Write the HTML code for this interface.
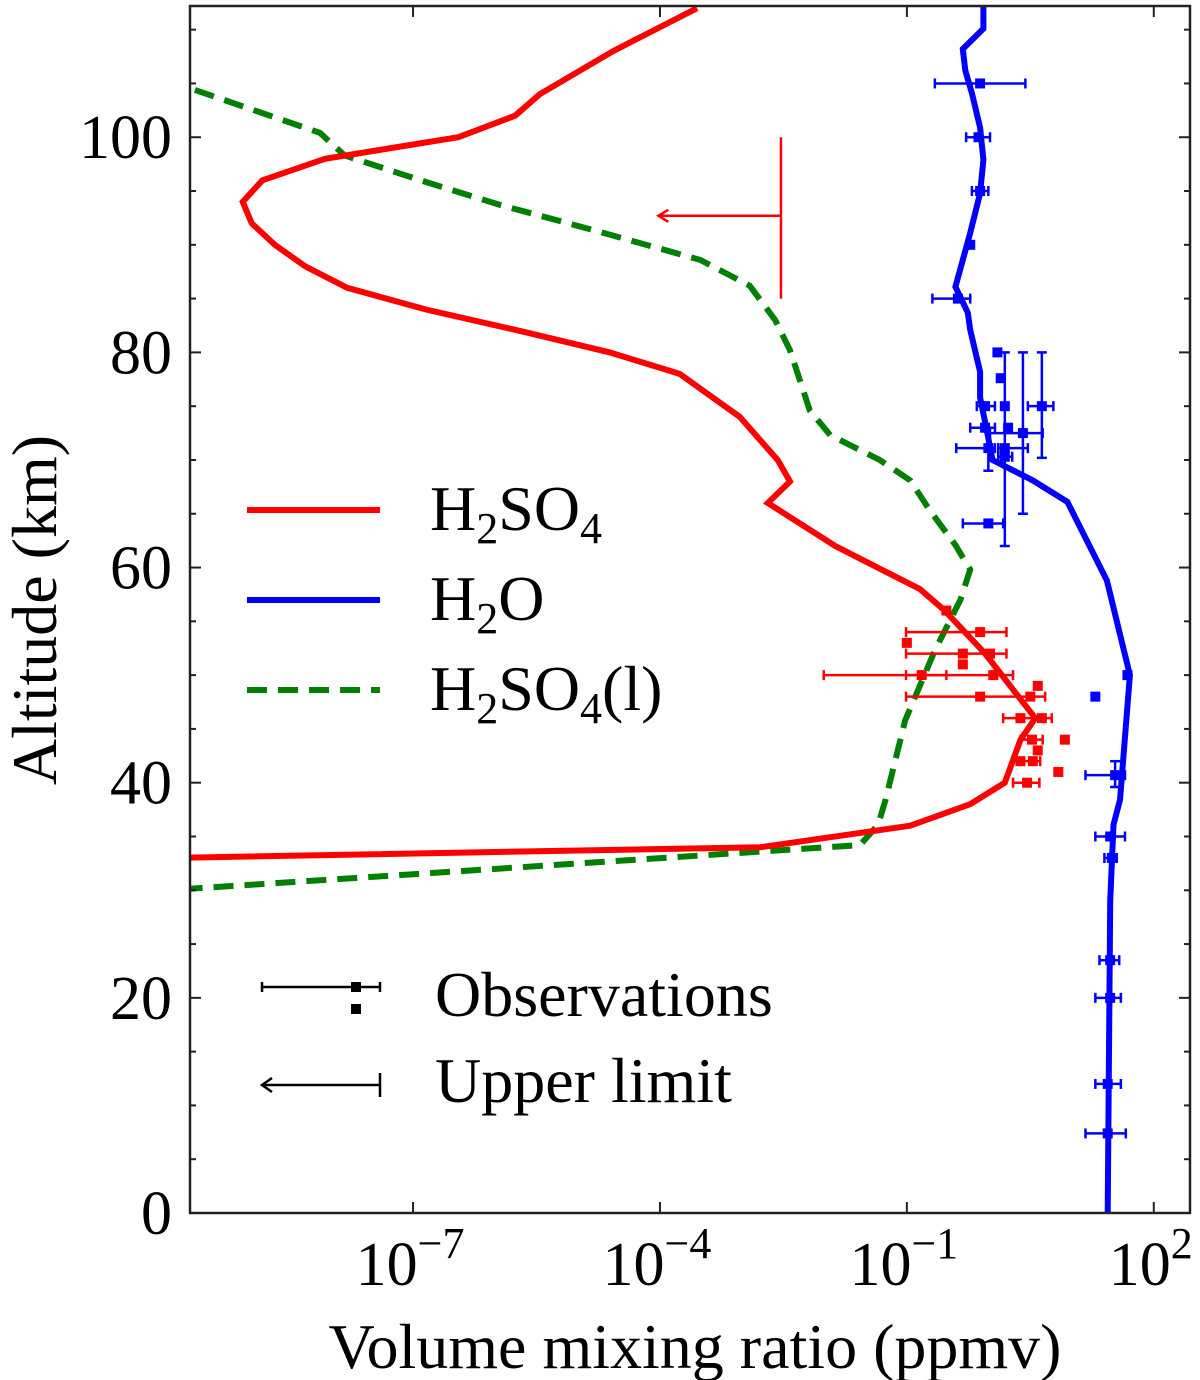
<!DOCTYPE html>
<html><head><meta charset="utf-8"><style>
html,body{margin:0;padding:0;background:#fff;}
svg{display:block;}
text{font-family:"Liberation Serif",serif;fill:#000;}
</style></head><body>
<svg id="chart" width="1200" height="1380" viewBox="0 0 1200 1380" xmlns="http://www.w3.org/2000/svg">
<g id="plot"></g>
</svg>
<script>
// ---- data (values are log10 of VMR in ppmv; altitudes in km) ----
const xTickExps = [-7, -4, -1, 2];
const yTickVals = [0, 20, 40, 60, 80, 100];
const h2so4Alt = [112,108,104,102,100,98,96,94,92,90,88,86,84,82,80,78,74,70,68,66,62,58,56,52,46,44,40,38,36,34,33];
const h2so4Log = [-3.55,-4.57,-5.46,-5.76,-6.45,-8.07,-8.83,-9.07,-8.96,-8.68,-8.31,-7.80,-6.85,-5.70,-4.61,-3.76,-3.03,-2.57,-2.42,-2.69,-1.87,-0.84,-0.54,-0.05,0.56,0.38,0.19,-0.23,-0.96,-2.78,-10];
const liqAlt = [104.4,100.4,98.3,96,93.7,91.2,88.6,86.2,83,80.2,74.6,72.3,70,68.1,65.3,62.1,59.8,57,52.3,45.8,38.4,36.1,34.2,30];
const liqLog = [-9.65,-8.13,-7.83,-6.91,-5.94,-4.73,-3.51,-2.91,-2.60,-2.42,-2.18,-1.93,-1.33,-0.96,-0.72,-0.41,-0.23,-0.35,-0.66,-1.02,-1.26,-1.35,-1.57,-10];
const h2oAlt = [112.2,110.1,108.2,106.2,104.1,100.9,97.9,94.8,91.1,86.1,83.7,82.1,78.2,75.8,72.8,70,68.1,66.1,58.8,50,38.4,36.1,29,0];
const h2oLog = [-0.07,-0.07,-0.32,-0.29,-0.21,-0.11,-0.07,-0.11,-0.23,-0.41,-0.26,-0.23,-0.11,-0.11,-0.03,0.04,0.53,0.95,1.43,1.71,1.59,1.51,1.47,1.44];
// observations: [alt, log value, xlo, xhi, altlo, althi]
const h2oObs = [
 [105,-0.11,-0.66,0.44,null,null],[100,-0.13,-0.28,0.01,null,null],[95,-0.11,-0.21,-0.01,null,null],
 [90,-0.23,null,null,null,null],[85,-0.38,-0.69,-0.23,null,null],[80,0.10,null,null,null,null],
 [77.6,0.14,null,null,null,null],[75,-0.05,-0.15,0.07,null,null],[75,0.19,null,null,62,80],
 [75,0.64,0.47,0.78,70.2,80],[73,-0.05,-0.23,0.07,null,null],[73,0.23,null,null,null,null],
 [72.5,0.41,0.01,0.65,65,80],[71.1,-0.01,-0.40,0.07,69,71.1],[71.1,0.19,0.11,0.47,null,null],
 [70.3,0.19,0.11,0.28,null,null],[64.1,-0.01,-0.32,0.17,null,null],
 [50,1.68,null,null,null,null],[48,1.29,null,null,null,null],[40.7,1.53,1.17,1.65,39.6,42],
 [35,1.47,1.29,1.65,null,null],[33,1.49,1.40,1.55,null,null],[23.5,1.47,1.34,1.58,null,null],
 [20,1.47,1.29,1.60,null,null],[12,1.44,1.29,1.60,null,null],[7.4,1.44,1.17,1.66,null,null]
];
const h2so4Obs = [
 [56,-0.52,null,null,null,null],[54,-0.11,-1.01,0.21,null,null],[53,-1.00,null,null,null,null],
 [52,-0.32,null,null,null,null],[52,0.01,-1.01,0.21,null,null],[51,-0.32,null,null,null,null],
 [50,-0.82,-2.01,-0.52,null,null],[50,0.05,-1.01,0.29,null,null],[49,0.59,null,null,null,null],
 [48,-0.11,-1.01,0.68,null,null],[48,0.50,null,null,null,null],[46,0.38,0.17,0.76,null,null],
 [46,0.64,null,null,null,null],[44,0.92,null,null,null,null],[44,0.52,0.38,0.65,null,null],
 [43,0.59,null,null,null,null],[42,0.38,0.28,0.62,null,null],[42,0.53,null,null,null,null],
 [41,0.84,null,null,null,null],[40,0.46,0.29,0.61,null,null]
];
const upperLimit = {log: -2.53, arrowLog: -4.02, altLo: 85, altHi: 100, altArrow: 92.7};

// ---- axes ----
const L=190, R=1190, T=6, B=1213;
const xMin=-9.71, xMax=2.44, yMin=0, yMax=112.2;
const xs = v => L + (v - xMin) / (xMax - xMin) * (R - L);
const ys = a => B - (a - yMin) / (yMax - yMin) * (B - T);
const NS="http://www.w3.org/2000/svg";
const svg=document.getElementById('chart');
const plot=document.getElementById('plot');
function mk(tag, attrs, parent){const e=document.createElementNS(NS,tag);for(const k in attrs)e.setAttribute(k,attrs[k]);(parent||svg).appendChild(e);return e;}

const defs=mk('defs',{});
const cp=mk('clipPath',{id:'clip'},defs);
mk('rect',{x:L,y:T,width:R-L,height:B-T},cp);
plot.setAttribute('clip-path','url(#clip)');

function line(alts, logs, color, name, dash){
  const d=alts.map((a,i)=>(i?'L':'M')+xs(logs[i]).toFixed(1)+','+ys(a).toFixed(1)).join(' ');
  const p=mk('path',{d:d,fill:'none',stroke:color,'stroke-width':6,'stroke-linejoin':'miter'},plot);
  if(dash)p.setAttribute('stroke-dasharray',dash);
  
  
}
line(liqAlt, liqLog, '#007f00', 'h2so4-liquid-line', '20,11');
line(h2so4Alt, h2so4Log, '#ff0000', 'h2so4-line');
line(h2oAlt, h2oLog, '#0000ff', 'h2o-line');

function obs(list, color, name){
  list.forEach(o=>{
    const g=mk('g',{},plot);
    
    
    const cx=xs(o[1]), cy=ys(o[0]);
    if(o[2]!==null){
      mk('line',{x1:xs(o[2]),x2:xs(o[3]),y1:cy,y2:cy,stroke:color,'stroke-width':2.5},g);
      mk('line',{x1:xs(o[2]),x2:xs(o[2]),y1:cy-5,y2:cy+5,stroke:color,'stroke-width':2.5},g);
      mk('line',{x1:xs(o[3]),x2:xs(o[3]),y1:cy-5,y2:cy+5,stroke:color,'stroke-width':2.5},g);
    }
    if(o[4]!==null){
      mk('line',{x1:cx,x2:cx,y1:ys(o[4]),y2:ys(o[5]),stroke:color,'stroke-width':2.5},g);
      mk('line',{x1:cx-5,x2:cx+5,y1:ys(o[4]),y2:ys(o[4]),stroke:color,'stroke-width':2.5},g);
      mk('line',{x1:cx-5,x2:cx+5,y1:ys(o[5]),y2:ys(o[5]),stroke:color,'stroke-width':2.5},g);
    }
    mk('rect',{x:cx-5,y:cy-5,width:10,height:10,fill:color},g);
  });
}
obs(h2so4Obs, '#ff0000', 'h2so4-observation');
obs(h2oObs, '#0000ff', 'h2o-observation');

const ul=mk('g',{},plot);


const ux=xs(upperLimit.log), uy=ys(upperLimit.altArrow), ax=xs(upperLimit.arrowLog);
mk('line',{x1:ux,x2:ux,y1:ys(upperLimit.altHi),y2:ys(upperLimit.altLo),stroke:'#ff0000','stroke-width':2.5},ul);
mk('line',{x1:ux,x2:ax,y1:uy,y2:uy,stroke:'#ff0000','stroke-width':2.5},ul);
mk('path',{d:`M${ax+10},${uy-6} L${ax},${uy} L${ax+10},${uy+6}`,fill:'none',stroke:'#ff0000','stroke-width':2.5},ul);

const fr=mk('rect',{x:L,y:T,width:R-L,height:B-T,fill:'none',stroke:'#222','stroke-width':2.5});



for(let a=0;a<=110;a+=5){
  const y=ys(a), len=(a%20===0)?11:6;
  mk('line',{x1:L,x2:L+len,y1:y,y2:y,stroke:'#222','stroke-width':2});
  mk('line',{x1:R,x2:R-len,y1:y,y2:y,stroke:'#222','stroke-width':2});
}
yTickVals.forEach(v=>{
  const t=mk('text',{x:172,y:ys(v)+21,'font-size':62,'text-anchor':'end'});
  t.textContent=v;
  
  
});
xTickExps.forEach(e=>{
  const x=xs(e);
  mk('line',{x1:x,x2:x,y1:B,y2:B-11,stroke:'#222','stroke-width':2});
  mk('line',{x1:x,x2:x,y1:T,y2:T+11,stroke:'#222','stroke-width':2});
  const t=mk('text',{x:x-3,y:1285,'font-size':62,'text-anchor':'middle'});
  
  
  t.innerHTML='10<tspan dy="-27" font-size="44">'+(e<0?'\u2212'+(-e):e)+'</tspan>';
});

const xt=mk('text',{x:695,y:1368,'font-size':64,'text-anchor':'middle'});
xt.textContent='Volume mixing ratio (ppmv)';


const yt=mk('text',{x:0,y:0,'font-size':64,'text-anchor':'middle',transform:'translate(56,610) rotate(-90)'});
yt.textContent='Altitude (km)';



const leg=mk('g',{});


const entries=[['#ff0000','',510,'H<tspan font-size="44" dy="13">2</tspan><tspan dy="-13">SO</tspan><tspan font-size="44" dy="13">4</tspan>'],
 ['#0000ff','',600,'H<tspan font-size="44" dy="13">2</tspan><tspan dy="-13">O</tspan>'],
 ['#007f00','20,11',690,'H<tspan font-size="44" dy="13">2</tspan><tspan dy="-13">SO</tspan><tspan font-size="44" dy="13">4</tspan><tspan dy="-13">(l)</tspan>']];
entries.forEach(en=>{
  const g=mk('g',{},leg);
  
  
  const l=mk('line',{x1:247,x2:380,y1:en[2],y2:en[2],stroke:en[0],'stroke-width':6},g);
  if(en[1])l.setAttribute('stroke-dasharray',en[1]);
  const t=mk('text',{x:430,y:en[2]+20,'font-size':64},g);
  t.innerHTML=en[3];
});
const g1=mk('g',{},leg);


mk('line',{x1:262,x2:380,y1:987,y2:987,stroke:'#000','stroke-width':2.5},g1);
mk('line',{x1:262,x2:262,y1:982,y2:992,stroke:'#000','stroke-width':2.5},g1);
mk('line',{x1:380,x2:380,y1:982,y2:992,stroke:'#000','stroke-width':2.5},g1);
mk('rect',{x:351,y:982,width:10,height:10,fill:'#000'},g1);
mk('rect',{x:351,y:1004,width:10,height:10,fill:'#000'},g1);
mk('text',{x:435,y:1016,'font-size':64},g1).textContent='Observations';
const g2=mk('g',{},leg);


mk('line',{x1:262,x2:380,y1:1085,y2:1085,stroke:'#000','stroke-width':2.5},g2);
mk('line',{x1:380,x2:380,y1:1073,y2:1097,stroke:'#000','stroke-width':2.5},g2);
mk('path',{d:'M272,1078 L262,1085 L272,1092',fill:'none',stroke:'#000','stroke-width':2.5},g2);
mk('text',{x:435,y:1102,'font-size':64},g2).textContent='Upper limit';
</script>
</body></html>
